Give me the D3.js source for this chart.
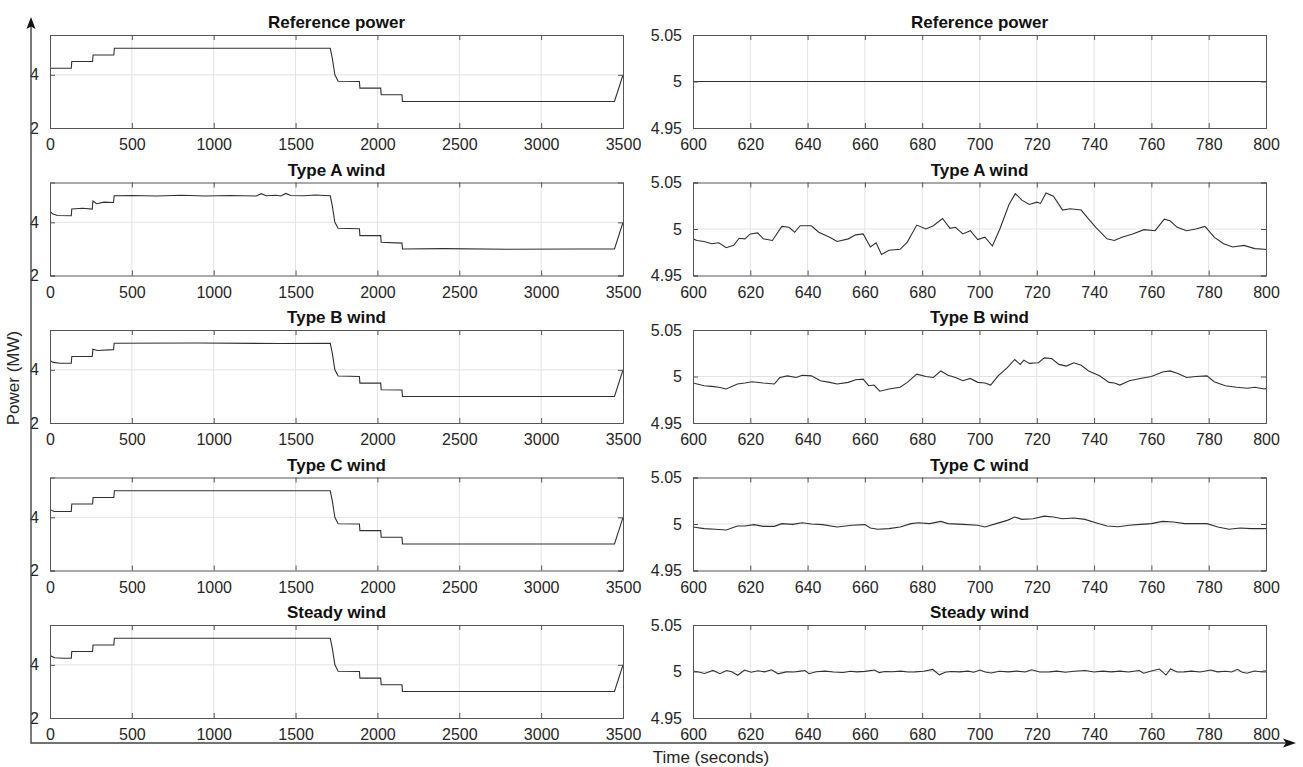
<!DOCTYPE html>
<html>
<head>
<meta charset="utf-8">
<script src="https://cdn.jsdelivr.net/npm/d3@7"></script>
<style>
  body { margin: 0; background: #fff; }
  svg text { font-family: "Liberation Sans", Arial, Helvetica, sans-serif; }
</style>
</head>
<body>
<svg id="chart" width="1303" height="767"></svg>
<script>
// ── Data ──────────────────────────────────────────────────
const titles = ['Reference power', 'Type A wind', 'Type B wind', 'Type C wind', 'Steady wind'];

const leftXTicks  = [0, 500, 1000, 1500, 2000, 2500, 3000, 3500];
const leftYTicks  = [2, 4];
const rightXTicks = [600, 620, 640, 660, 680, 700, 720, 740, 760, 780, 800];
const rightYTicks = [4.95, 5, 5.05];

// left column: [time (s), power (MW)]
const refLeft = [[0,4.25],[130,4.25],[133,4.5],[260,4.5],[263,4.75],[390,4.75],[393,5],[1712,5],[1725,4.6],[1740,4.0],[1760,3.76],[1890,3.75],[1893,3.5],[2020,3.5],[2023,3.25],[2150,3.25],[2153,3],[3448,3],[3500,4]];
const typeALeft = [[0,4.42],[15,4.32],[45,4.26],[130,4.25],[133,4.5],[200,4.53],[258,4.5],[262,4.8],[285,4.7],[330,4.76],[388,4.75],[392,5.0],[500,5.01],[650,4.99],[800,5.02],[950,4.99],[1100,5.01],[1260,4.99],[1290,5.08],[1320,5.0],[1380,5.02],[1410,4.99],[1440,5.09],[1470,5.01],[1550,5.0],[1620,5.03],[1712,5.0],[1725,4.6],[1740,4.0],[1760,3.78],[1890,3.76],[1893,3.5],[2020,3.5],[2023,3.25],[2150,3.22],[2153,3.0],[2400,3.01],[2800,2.99],[3200,3.0],[3448,3.0],[3500,4.0]];
const typeBLeft = [[0,4.35],[20,4.28],[60,4.25],[130,4.25],[133,4.5],[258,4.5],[262,4.78],[290,4.73],[388,4.76],[392,5.0],[900,5.01],[1400,4.99],[1712,5.0],[1725,4.6],[1740,4.0],[1760,3.77],[1890,3.75],[1893,3.5],[2020,3.5],[2023,3.25],[2150,3.24],[2153,3.0],[3448,3.0],[3500,4.0]];
const typeCLeft = [[0,4.3],[25,4.22],[130,4.22],[133,4.5],[260,4.5],[263,4.75],[390,4.75],[393,5.0],[1712,5.0],[1725,4.6],[1740,4.0],[1760,3.76],[1890,3.75],[1893,3.5],[2020,3.5],[2023,3.25],[2150,3.25],[2153,3.0],[3448,3.0],[3500,4.0]];
const steadyLeft = [[0,4.35],[30,4.27],[80,4.25],[130,4.25],[133,4.5],[260,4.5],[263,4.75],[390,4.75],[393,5.0],[1712,5.0],[1725,4.6],[1740,4.0],[1760,3.76],[1890,3.75],[1893,3.5],[2020,3.5],[2023,3.25],[2150,3.25],[2153,3.0],[3448,3.0],[3500,4.0]];

// right column (zoom 600–800 s)
const refRight = [[600,5],[800,5]];
const typeARight = [[600,4.9894],[601.3,4.9877],[603.9,4.9866],[606.5,4.9842],[609,4.9852],[611.6,4.9799],[614.2,4.9824],[616.1,4.9901],[618.1,4.9894],[620,4.9947],[622.6,4.9958],[624.5,4.9894],[627.7,4.9877],[631,5.0028],[633.5,5.0018],[635.5,4.9965],[637.4,5.0035],[641.3,5.0035],[643.9,4.9965],[647.7,4.9912],[650.3,4.9866],[654.2,4.9894],[656.8,4.9937],[659.4,4.9947],[661.9,4.9806],[663.9,4.9852],[665.8,4.9725],[668.4,4.9771],[672.3,4.9782],[674.8,4.9859],[678.1,5.0042],[681.3,5.0],[683.9,5.0035],[687.1,5.0113],[689.7,5.0007],[691.6,5.0018],[694.2,4.9947],[696.8,4.9982],[699.4,4.9887],[701.9,4.9912],[704.5,4.9817],[707.1,5.0],[710.3,5.0264],[712.5,5.038],[714.8,5.031],[717.4,5.0264],[720,5.0289],[721.3,5.0275],[723.2,5.0387],[725.8,5.0352],[729,5.0204],[731.6,5.0218],[735.5,5.0204],[738.1,5.0106],[740.6,5.0018],[744.5,4.9894],[747.1,4.9877],[749.7,4.9912],[753.5,4.9947],[757.4,4.9993],[761.3,4.9982],[764.5,5.0106],[766.5,5.0088],[769,5.0018],[772.3,4.9982],[775.5,5.0],[778.7,5.0028],[781.9,4.9912],[785.2,4.9842],[788.4,4.9806],[792.3,4.9824],[796.1,4.9789],[799.4,4.9782],[800,4.978]];
const typeBRight = [[600,4.993],[603.9,4.9901],[606.5,4.9894],[609,4.9884],[611.6,4.9866],[615.5,4.9919],[618.1,4.993],[620.6,4.9944],[624.5,4.993],[628.4,4.9919],[630.3,4.9989],[632.9,5.0007],[636.1,4.9989],[638.1,5.0014],[641.3,5.0007],[644.5,4.9954],[647.7,4.9937],[650.3,4.9919],[654.2,4.9937],[656.8,4.9965],[659.4,4.9972],[661.3,4.9901],[663.2,4.9908],[665.2,4.9842],[668.4,4.9866],[672.3,4.9884],[674.8,4.9937],[678.1,5.0025],[681.3,5.0],[683.9,4.9989],[686.5,5.006],[689,5.0014],[691.6,4.9989],[694.2,4.9954],[696.8,4.9979],[699.4,4.9937],[701.9,4.993],[703.9,4.9908],[706.5,5.0007],[709.7,5.0095],[712.3,5.0183],[714.2,5.013],[715.5,5.0176],[717.4,5.0141],[720.6,5.0148],[722.6,5.02],[725.2,5.0193],[727.7,5.013],[730.3,5.0112],[732.9,5.0148],[735.5,5.012],[738.1,5.006],[741.9,5.0007],[745.2,4.9937],[747.1,4.993],[749,4.9908],[752.3,4.9954],[756.1,4.9979],[760,5.0],[763.9,5.0049],[766.5,5.006],[769,5.0035],[772.3,4.9989],[775.5,5.0],[779.4,5.0007],[781.9,4.9944],[785.8,4.9901],[789.7,4.9884],[793.5,4.9874],[796.1,4.9884],[799.4,4.9866],[800,4.987]];
const typeCRight = [[600,4.9968],[603.9,4.995],[607.7,4.9943],[611.6,4.9936],[615.5,4.9979],[618.1,4.9979],[621.3,4.9993],[624.5,4.9975],[628.4,4.9975],[631,5.0004],[634.8,4.9996],[638.1,5.0014],[641.3,5.0],[645.2,4.9993],[650.3,4.9968],[655.5,4.9986],[660,4.9993],[661.9,4.9957],[664.5,4.9943],[668.4,4.995],[672.3,4.9968],[676.1,5.0004],[678.7,5.0014],[682.6,5.0004],[686.5,5.0028],[689,5.0004],[694.2,4.9996],[699.4,4.9986],[701.9,4.9968],[705.8,5.0004],[709.7,5.0039],[712.3,5.0075],[714.8,5.005],[718.7,5.0057],[722.6,5.0085],[725.8,5.0075],[729,5.0057],[732.9,5.0064],[736.8,5.005],[740.6,5.0014],[744.5,4.9979],[748.4,4.9971],[752.3,4.9986],[756.1,4.9996],[760,5.0004],[763.9,5.0028],[767.7,5.0021],[771.6,5.0004],[775.5,5.0004],[779.4,5.0004],[783.2,4.9968],[787.1,4.9943],[791,4.9957],[794.8,4.995],[800,4.995]];
const steadyRight = [[600,5.0005],[602,4.9995],[604,4.9978],[605.5,4.9995],[607,5.0012],[609.4,4.9977],[611.7,5.001],[613.5,4.9998],[615.6,4.996],[618,5.0016],[620.3,4.9992],[622.7,5.0008],[625,4.9996],[627.4,5.0018],[629.7,4.9975],[632.5,4.9996],[635.2,4.9994],[637.5,5.0004],[639.1,5.001],[640.5,4.9976],[643,4.9998],[646.2,5.0004],[649,4.9995],[652.4,4.999],[655,5.0002],[657.1,4.9996],[660,5.0001],[663.4,5.0016],[665,4.9988],[667,5.0],[669.6,4.9998],[672.5,5.0004],[675,4.9994],[677.5,4.9996],[680.5,5.0002],[683.7,5.0022],[686,4.9964],[688,4.9992],[690,5.0],[693,4.9996],[696,5.0004],[698,4.9992],[700.2,5.0016],[702,4.9994],[704,4.9984],[707,5.0002],[710,4.9996],[713,5.0004],[716,4.9994],[718.2,5.0018],[721,4.9994],[724.4,4.9996],[727,5.0004],[730,4.9992],[733,5.0002],[736.9,5.001],[740,4.9994],[743,5.0004],[746,4.9996],[749,5.0004],[752,4.9994],[755.7,5.001],[757.3,4.9982],[760,5.0006],[762.8,5.0026],[765.1,4.9962],[766.7,5.0028],[769,4.9994],[771.4,4.9996],[774,5.0004],[777,4.9994],[780.7,5.0016],[783,4.9996],[786,5.0002],[788,4.9994],[790.1,5.0024],[791.5,4.9994],[793.3,4.9982],[796,5.0006],[798,4.9998],[800,5.0008]];

const leftSeries  = [refLeft, typeALeft, typeBLeft, typeCLeft, steadyLeft];
const rightSeries = [refRight, typeARight, typeBRight, typeCRight, steadyRight];

// ── Layout ────────────────────────────────────────────────
const svg = d3.select('#chart');
const PANEL_TOP = 35, PANEL_STEP = 147.5, PANEL_H = 93;
const LEFT  = { x0: 50,  x1: 623 };
const RIGHT = { x0: 693, x1: 1266 };
const INK = '#262626';

function drawPanel(id, box, top, xDomain, yDomain, xTicks, yTicks, data, title) {
  const x = d3.scaleLinear().domain(xDomain).range([box.x0, box.x1]);
  const y = d3.scaleLinear().domain(yDomain).range([top + PANEL_H, top]);
  const g = svg.append('g');

  g.append('rect').attr('x', box.x0).attr('y', top)
    .attr('width', box.x1 - box.x0).attr('height', PANEL_H).attr('fill', '#fff');

  // grid
  g.selectAll('.vg').data(xTicks.slice(1, -1)).enter().append('line')
    .attr('x1', d => x(d)).attr('x2', d => x(d))
    .attr('y1', top).attr('y2', top + PANEL_H)
    .attr('stroke', '#e3e3e3').attr('stroke-width', 1);
  g.selectAll('.hg').data(yTicks.slice(1, -1).concat(yTicks.length === 2 ? [yTicks[1]] : [])).enter().append('line')
    .attr('x1', box.x0).attr('x2', box.x1)
    .attr('y1', d => y(d)).attr('y2', d => y(d))
    .attr('stroke', '#e3e3e3').attr('stroke-width', 1);

  // series
  g.append('clipPath').attr('id', 'clip' + id).append('rect')
    .attr('x', box.x0).attr('y', top).attr('width', box.x1 - box.x0).attr('height', PANEL_H);
  const line = d3.line().x(d => x(d[0])).y(d => y(d[1]));
  g.append('path').datum(data).attr('d', line)
    .attr('clip-path', `url(#clip${id})`)
    .attr('fill', 'none').attr('stroke', '#303030').attr('stroke-width', 1.1);

  // axes with inward ticks (matlab style)
  const fmt = d => String(d);
  const bottom = g.append('g').attr('transform', `translate(0,${top + PANEL_H})`)
    .call(d3.axisBottom(x).tickValues(xTicks).tickSize(-5).tickPadding(11).tickFormat(fmt));
  const topAx = g.append('g').attr('transform', `translate(0,${top})`)
    .call(d3.axisTop(x).tickValues(xTicks).tickSize(-5).tickFormat(''));
  const leftAx = g.append('g').attr('transform', `translate(${box.x0},0)`)
    .call(d3.axisLeft(y).tickValues(yTicks).tickSize(-5).tickPadding(11).tickFormat(fmt));
  const rightAx = g.append('g').attr('transform', `translate(${box.x1},0)`)
    .call(d3.axisRight(y).tickValues(yTicks).tickSize(-5).tickFormat(''));

  [bottom, topAx, leftAx, rightAx].forEach(a => {
    a.select('.domain').attr('stroke', '#555').attr('stroke-width', 1);
    a.selectAll('.tick line').attr('stroke', '#555');
    a.selectAll('text').attr('fill', INK).style('font-size', '16px');
  });
  bottom.selectAll('text').attr('dy', '0.71em');

  g.append('text').attr('x', (box.x0 + box.x1) / 2).attr('y', top - 7)
    .attr('text-anchor', 'middle').attr('fill', '#111')
    .style('font-size', '17px').style('font-weight', 'bold')
    .text(title);
}

titles.forEach((t, i) => {
  const top = PANEL_TOP + i * PANEL_STEP;
  drawPanel('L' + i, LEFT, top, [0, 3500], [2, 5.5], leftXTicks, leftYTicks, leftSeries[i], t);
  drawPanel('R' + i, RIGHT, top, [600, 800], [4.95, 5.05], rightXTicks, rightYTicks, rightSeries[i], t);
});

// ── Outer frame arrows & labels ───────────────────────────
const frame = svg.append('g');
frame.append('path').attr('d', 'M31,26 L31,743 L1287,743')
  .attr('fill', 'none').attr('stroke', '#444').attr('stroke-width', 1.4);
frame.append('path').attr('d', 'M31,17 L35.5,29 L31,26.5 L26.5,29 Z').attr('fill', '#111');
frame.append('path').attr('d', 'M1296,743 L1283,738.5 L1286,743 L1283,747.5 Z').attr('fill', '#111');

frame.append('text').attr('transform', 'translate(19,378) rotate(-90)')
  .attr('text-anchor', 'middle').attr('fill', INK).style('font-size', '17px')
  .text('Power (MW)');
frame.append('text').attr('x', 711).attr('y', 763)
  .attr('text-anchor', 'middle').attr('fill', INK).style('font-size', '17px')
  .text('Time (seconds)');
</script>
</body>
</html>
